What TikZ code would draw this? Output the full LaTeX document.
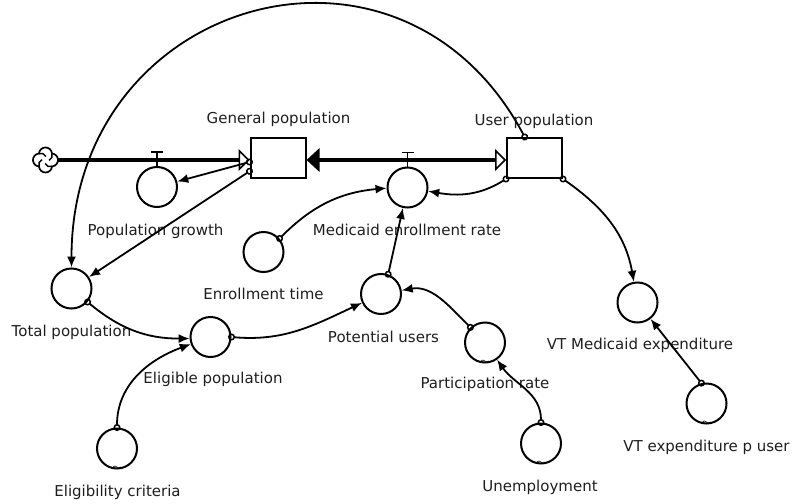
\documentclass[tikz,border=0pt]{standalone}
\usepackage{fontspec}
\setmainfont{DejaVu Sans}
\usetikzlibrary{arrows.meta}
\definecolor{sd_text}{RGB}{30,30,30}
\tikzset{
  auxvar/.style={circle, draw, line width=2pt, minimum size=40pt, inner sep=0pt},
  stockbox/.style={rectangle, draw, line width=2pt, minimum width=55pt, minimum height=40pt, inner sep=0pt},
  varlabel/.style={font=\fontsize{15}{18}\selectfont, text=sd_text, inner sep=0pt},
  link/.style={line width=1.8pt, shorten <=-3.5pt,
    {Circle[open,length=7pt,width=7pt,line width=1.5pt]}-{Latex[length=11pt,width=9pt]}},
  pipe/.style={line width=4.3pt},
}
\newcommand{\flowvalve}[1]{% #1 = rate variable under the pipe
  \draw[line width=1.8pt] (#1.north) -- ++(0,14) ++(-6,0) -- ++(12,0);
}
\newcommand{\lookupmark}[1]{% #1 = input variable
  \draw[line width=0.6pt] ([xshift=-4pt,yshift=2.5pt]#1.south)
    sin ++(2,1) cos ++(2,-1) sin ++(2,-1) cos ++(2,1);
}
\newcommand{\sdcloud}[1]{% #1 = node that holds the cloud
  \draw[line width=1.7pt] ([shift={(6.48,-6.48)}]#1.center)
    arc[start angle=-86, end angle=86, radius=6.5]
    arc[start angle=4, end angle=176, radius=6.5]
    arc[start angle=94, end angle=266, radius=6.5]
    arc[start angle=184, end angle=356, radius=6.5] -- cycle;
  \foreach \a in {45,135,225,315}
    \draw[line width=1.4pt] ([shift={(\a:9)}]#1.center) to[bend left=45] ([shift={(\a-50:3.5)}]#1.center);
}
\begin{document}
\begin{tikzpicture}[x=1pt, y=1pt]
  \useasboundingbox (0,0) rectangle (797,-503);
  % stocks and source
  \node[circle, minimum size=25pt, inner sep=0pt] (source) at (45.5,-160) {};
  \sdcloud{source}
  \node[stockbox] (genpop) at (278,-158) {};
  \node[stockbox] (userpop) at (534.5,-158) {};
  % variables
  \node[auxvar] (popgrowth) at (157,-187) {};
  \node[auxvar] (enrollrate) at (407.5,-187.5) {};
  \node[auxvar] (enrolltime) at (263.5,-252) {};
  \node[auxvar] (totalpop) at (71.5,-288.5) {};
  \node[auxvar] (eligpop) at (210.5,-337) {};
  \node[auxvar] (eligcrit) at (117,-448.5) {};
  \node[auxvar] (potusers) at (381,-294) {};
  \node[auxvar] (partrate) at (485,-342.5) {};
  \node[auxvar] (unempl) at (541,-443.5) {};
  \node[auxvar] (vtexp) at (637.5,-302.5) {};
  \node[auxvar] (vtperuser) at (706.5,-403.5) {};
  % labels
  \node[varlabel] (genpopL) at (278.5,-119) {General population};
  \node[varlabel] (userpopL) at (534,-121) {User population};
  \node[varlabel] (popgrowthL) at (155.5,-231) {Population growth};
  \node[varlabel] (enrollrateL) at (407,-230) {Medicaid enrollment rate};
  \node[varlabel] (enrolltimeL) at (263.5,-294) {Enrollment time};
  \node[varlabel] (totalpopL) at (71.5,-332) {Total population};
  \node[varlabel] (eligpopL) at (213,-379) {Eligible population};
  \node[varlabel] (eligcritL) at (117.5,-492) {Eligibility criteria};
  \node[varlabel] (potusersL) at (383.5,-337) {Potential users};
  \node[varlabel] (partrateL) at (485,-384) {Participation rate};
  \node[varlabel] (unemplL) at (540,-487) {Unemployment};
  \node[varlabel] (vtexpL) at (640,-345) {VT Medicaid expenditure};
  \node[varlabel] (vtperuserL) at (706.5,-447) {VT expenditure p user};
  % flows
  \flowvalve{popgrowth}
  \flowvalve{enrollrate}
  \draw[pipe, -{Triangle[open,length=11pt,width=22pt,line width=1.6pt]}]
    (source.east) -- (source -| genpop.west);
  \draw[pipe, {Triangle[length=13pt,width=23pt]}-{Triangle[open,length=11pt,width=22pt,line width=1.6pt]}]
    (genpop.east |- source) -- (userpop.west |- source);
  \lookupmark{eligcrit}
  \lookupmark{partrate}
  \lookupmark{unempl}
  \lookupmark{vtperuser}
  % links
  \draw[link] (genpop.188) -- (popgrowth);
  \draw[link] (genpop.205) -- (totalpop);
  \draw[link] (userpop.115) .. controls +(118:265) and +(90:270) .. (totalpop.north);
  \draw[link] (enrolltime.40) to[bend left=20] (enrollrate);
  \draw[link] (userpop.south west) to[out=212, in=-10] (enrollrate);
  \draw[link] (potusers.70) -- (enrollrate);
  \draw[link] (totalpop.-40) to[bend right=20] (eligpop);
  \draw[link] (eligcrit.north) to[out=90, in=200] (eligpop);
  \draw[link] (eligpop.east) to[out=-5, in=205] (potusers);
  \draw[link] (partrate.134) to[out=135, in=10] (potusers);
  \draw[link] (unempl.north) to[out=90, in=-55] (partrate);
  \draw[link] (userpop.south east) to[out=-35, in=100] (vtexp);
  \draw[link] (vtperuser.104) -- (vtexp);
\end{tikzpicture}
\end{document}
